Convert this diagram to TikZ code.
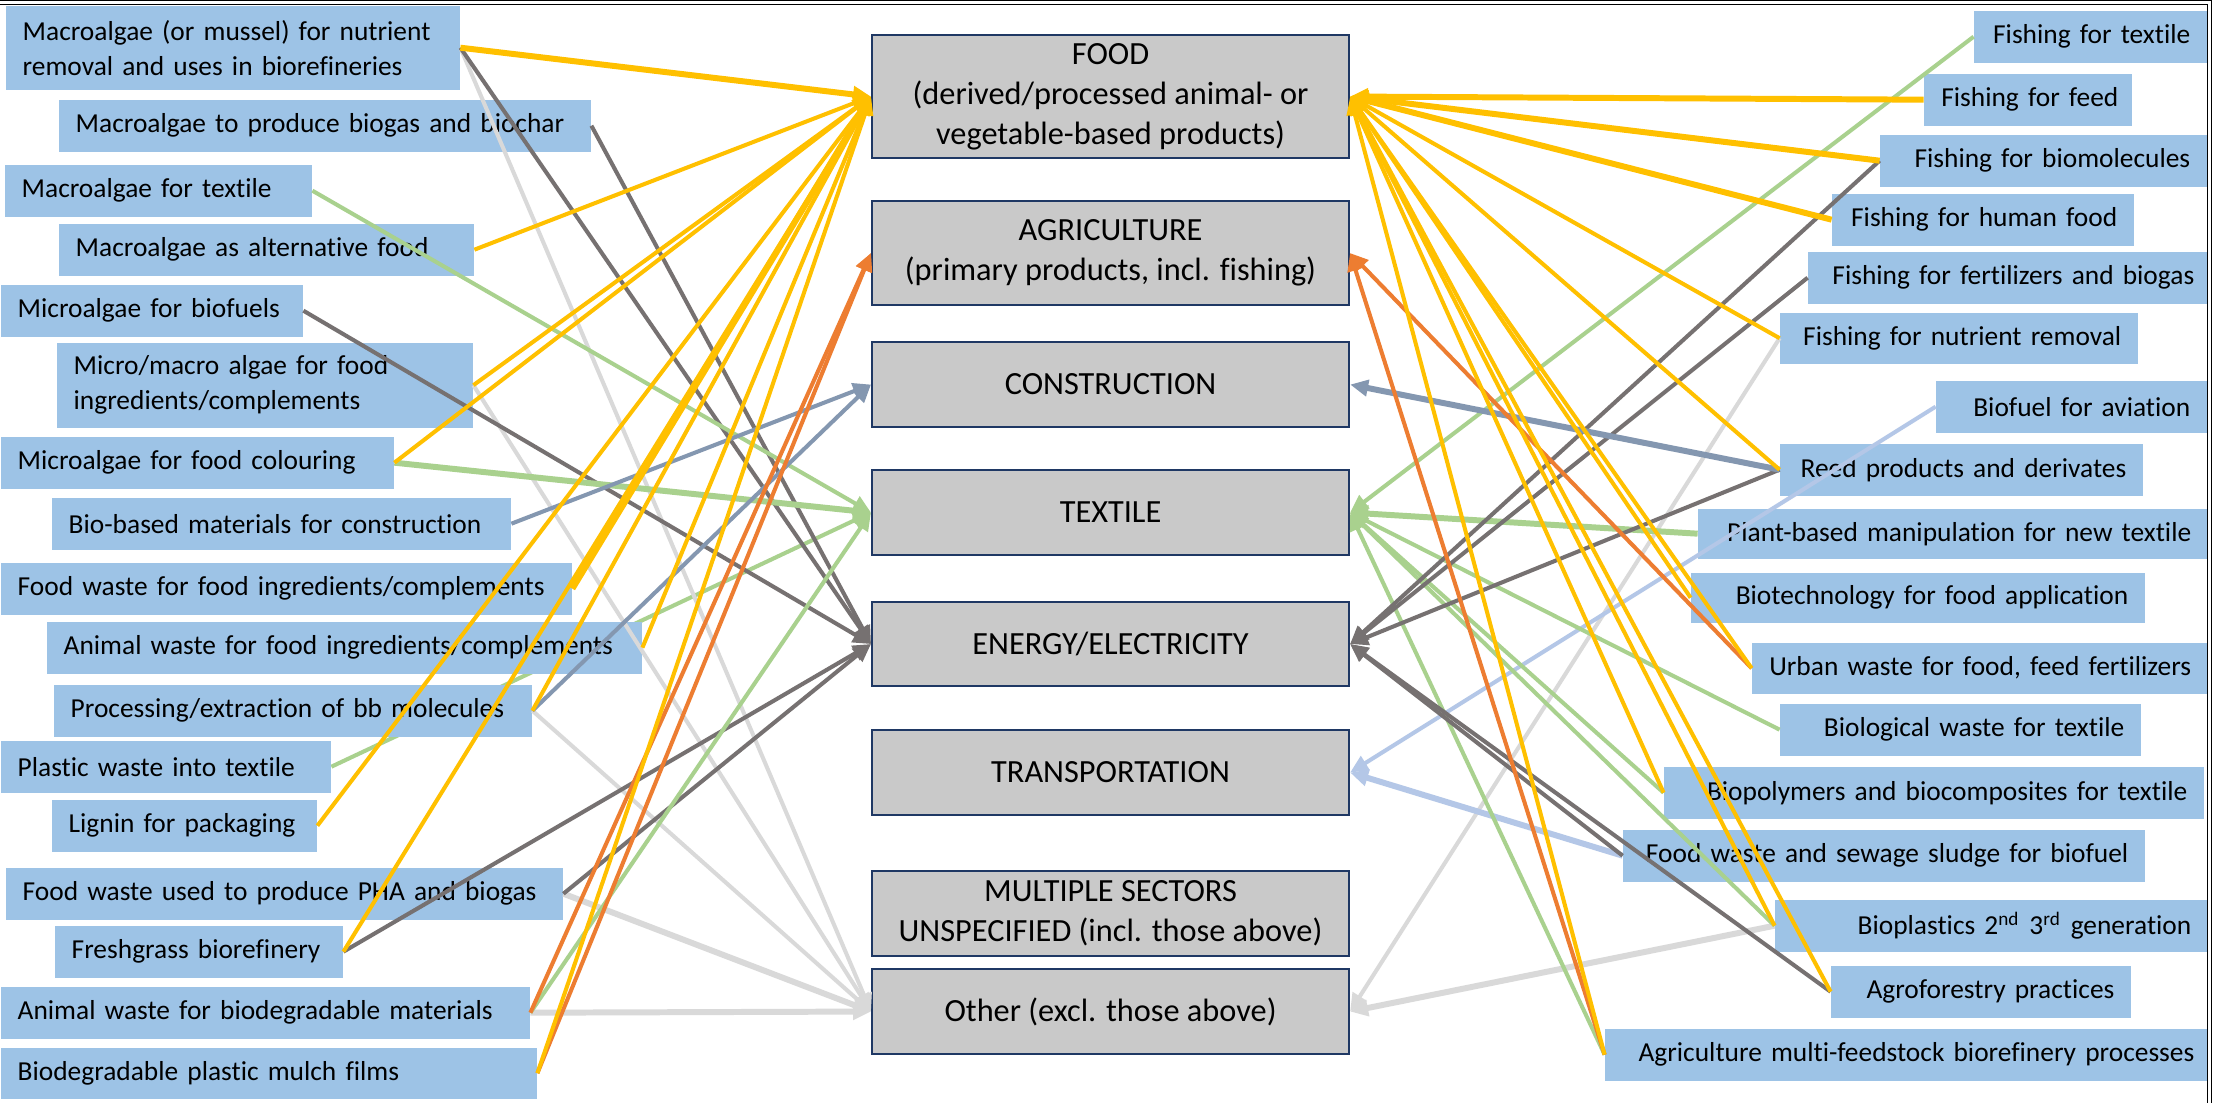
\documentclass[tikz,border=0pt]{standalone}
\usepackage{fontspec}
\setmainfont{Carlito}[Ligatures=NoCommon]
\usetikzlibrary{arrows.meta}
\pgfdeclarelayer{bg}
\pgfsetlayers{bg,main}
\definecolor{boxblue}{RGB}{157,195,230}
\definecolor{secgray}{RGB}{201,201,201}
\definecolor{navy}{RGB}{31,56,100}
\definecolor{cyel}{RGB}{255,192,0}
\definecolor{corg}{RGB}{237,125,49}
\definecolor{cdg}{RGB}{118,113,113}
\definecolor{clg}{RGB}{217,217,217}
\definecolor{cgr}{RGB}{169,209,142}
\definecolor{cbg}{RGB}{132,151,176}
\definecolor{clb}{RGB}{180,199,231}
\tikzset{
  boxfont/.style={font=\fontsize{7.8}{9.9}\selectfont, text=black},
  nowrap/.style={execute at begin node={\leavevmode\hbox\bgroup}, execute at end node={\egroup}},
  lbox2/.style={boxfont, fill=boxblue, anchor=north west, align=left, inner xsep=1.7mm, inner ysep=0pt,
    minimum height=5.2mm},
  lbox/.style={lbox2, nowrap},
  rbox/.style={boxfont, fill=boxblue, anchor=north east, align=right, inner xsep=1.7mm, inner ysep=0pt,
    minimum height=5.2mm, nowrap},
  sbox/.style={draw=navy, line width=0.6pt, fill=secgray, anchor=north west, minimum width=47.7mm,
    align=center, inner sep=0pt, font=\fontsize{9.2}{11.4}\selectfont, text=black},
  conn/.style={line width=1.15pt, -{Triangle[length=1.8mm,width=1.6mm]}},
  thk/.style={line width=1.7pt},
}
\begin{document}
\begin{tikzpicture}[x=0.1mm, y=-0.1mm]
\useasboundingbox (0,0) rectangle (2215,1103);
\begin{pgfonlayer}{bg}
\fill[white] (0,0) rectangle (2215,1103);
\end{pgfonlayer}

% central sector boxes
\node[sbox, minimum height=12.3mm] (FOOD) at (871,34) {FOOD\\(derived/processed animal- or\\vegetable-based products)};
\node[sbox, minimum height=10.4mm] (AGRI) at (871,200) {AGRICULTURE\\(primary products, incl. fishing)};
\node[sbox, minimum height=8.5mm] (CONS) at (871,341) {CONSTRUCTION};
\node[sbox, minimum height=8.5mm] (TEXT) at (871,469) {TEXTILE};
\node[sbox, minimum height=8.4mm] (ENER) at (871,601) {ENERGY/ELECTRICITY};
\node[sbox, minimum height=8.5mm] (TRAN) at (871,729) {TRANSPORTATION};
\node[sbox, minimum height=8.5mm] (MULT) at (871,870) {MULTIPLE SECTORS\\UNSPECIFIED (incl. those above)};
\node[sbox, minimum height=8.5mm] (OTHE) at (871,968) {Other (excl. those above)};

% left boxes
\node[lbox2, text width=42mm, minimum height=8.4mm] (L1) at (5,5) {Macroalgae (or mussel) for nutrient\\removal and uses in biorefineries};
\node[lbox, text width=49.8mm] (L2) at (58,99) {Macroalgae to produce biogas and biochar};
\node[lbox, text width=27.3mm] (L3) at (4,164) {Macroalgae for textile};
\node[lbox, text width=38.1mm] (L4) at (58,223) {Macroalgae as alternative food};
\node[lbox, text width=26.8mm] (L5) at (0,284) {Microalgae for biofuels};
\node[lbox2, text width=38.2mm, minimum height=8.5mm] (L6) at (56,342) {Micro/macro algae for food\\ingredients/complements};
\node[lbox, text width=35.9mm] (L7) at (0,436) {Microalgae for food colouring};
\node[lbox, text width=42.5mm] (L8) at (51,497) {Bio-based materials for construction};
\node[lbox, text width=53.7mm] (L9) at (0,562) {Food waste for food ingredients/complements};
\node[lbox, text width=56.1mm] (L10) at (46,621) {Animal waste for food ingredients/complements};
\node[lbox, text width=44.4mm] (L11) at (53,684) {Processing/extraction of bb molecules};
\node[lbox, text width=29.6mm] (L12) at (0,740) {Plastic waste into textile};
\node[lbox, text width=23.1mm] (L13) at (51,799) {Lignin for packaging};
\node[lbox, text width=52.3mm] (L14) at (5,867) {Food waste used to produce PHA and biogas};
\node[lbox, text width=25.4mm] (L15) at (54,925) {Freshgrass biorefinery};
\node[lbox, text width=49.5mm] (L16) at (0,986) {Animal waste for biodegradable materials};
\node[lbox, text width=50.2mm, minimum height=5.1mm] (L17) at (0,1047) {Biodegradable plastic mulch films};

% right boxes
\node[rbox, text width=19.9mm] (R1) at (2208,10) {Fishing for textile};
\node[rbox, text width=17.4mm] (R2) at (2133,73) {Fishing for feed};
\node[rbox, text width=29.3mm] (R3) at (2208,134) {Fishing for biomolecules};
\node[rbox, text width=26.8mm] (R4) at (2135,193) {Fishing for human food};
\node[rbox, text width=36.9mm] (R5) at (2212,251) {Fishing for fertilizers and biogas};
\node[rbox, text width=32.4mm, minimum height=5.1mm] (R6) at (2139,312) {Fishing for nutrient removal};
\node[rbox, text width=23.7mm] (R7) at (2208,380) {Biofuel for aviation};
\node[rbox, text width=32.9mm] (R8) at (2144,443) {Reed products and derivates};
\node[rbox, text width=47.6mm, minimum height=5.0mm] (R9) at (2209,508) {Plant-based manipulation for new textile};
\node[rbox, text width=42.0mm, minimum height=5.0mm] (R10) at (2146,572) {Biotechnology for food application};
\node[rbox, text width=42.1mm, minimum height=5.1mm] (R11) at (2208,642) {Urban waste for food, feed fertilizers};
\node[rbox, text width=32.7mm] (R12) at (2142,703) {Biological waste for textile};
\node[rbox, text width=50.6mm] (R13) at (2205,766) {Biopolymers and biocomposites for textile};
\node[rbox, text width=48.8mm] (R14) at (2146,829) {Food waste and sewage sludge for biofuel};
\node[rbox, text width=39.9mm] (R15) at (2209,899) {Bioplastics 2\textsuperscript{nd} 3\textsuperscript{rd} generation};
\node[rbox, text width=26.6mm] (R16) at (2132,965) {Agroforestry practices};
\node[rbox, text width=57.2mm] (R17) at (2212,1028) {Agriculture multi-feedstock biorefinery processes};

% connector drawn beneath the boxes
\begin{pgfonlayer}{bg}
\draw[conn, cgr] (L12.east) -- (TEXT.west);
\end{pgfonlayer}

% left connectors
\draw[conn, clg] (L1.east) -- (OTHE.west);
\draw[conn, clg] (L6.east) -- (OTHE.west);
\draw[conn, clg] (L11.east) -- (OTHE.west);
\draw[conn, clg, thk] (L14.east) -- (OTHE.west);
\draw[conn, clg, thk] (L16.east) -- (OTHE.west);

\draw[conn, cdg] (L1.east) -- (ENER.west);
\draw[conn, cdg] (L2.east) -- (ENER.west);
\draw[conn, cdg] (L5.east) -- (ENER.west);
\draw[conn, cdg] (L14.east) -- (ENER.west);
\draw[conn, cdg] (L15.east) -- (ENER.west);

\draw[conn, cgr] (L3.east) -- (TEXT.west);
\draw[conn, cgr, thk] (L7.east) -- (TEXT.west);
\draw[conn, cgr] (L16.east) -- (TEXT.west);

\draw[conn, cbg] (L8.east) -- (CONS.west);
\draw[conn, cbg] (L11.east) -- (CONS.west);

\draw[conn, corg] (L16.east) -- (AGRI.west);
\draw[conn, corg] (L17.east) -- (AGRI.west);

\draw[conn, cyel, thk] (L1.east) -- (FOOD.west);
\draw[conn, cyel] (L4.east) -- (FOOD.west);
\draw[conn, cyel] (L6.east) -- (FOOD.west);
\draw[conn, cyel] (L7.east) -- (FOOD.west);
\draw[conn, cyel, thk] (L9.east) -- (FOOD.west);
\draw[conn, cyel] (L10.east) -- (FOOD.west);
\draw[conn, cyel] (L11.east) -- (FOOD.west);
\draw[conn, cyel] (L13.east) -- (FOOD.west);
\draw[conn, cyel] (L15.east) -- (FOOD.west);
\draw[conn, cyel] (L17.east) -- (FOOD.west);

% right connectors
\draw[conn, clg] (R6.west) -- (OTHE.east);
\draw[conn, clg, thk] (R15.west) -- (OTHE.east);

\draw[conn, clb] (R7.west) -- (TRAN.east);
\draw[conn, clb, thk] (R14.west) -- (TRAN.east);

\draw[conn, cgr] (R1.west) -- (TEXT.east);
\draw[conn, cgr, thk] (R9.west) -- (TEXT.east);
\draw[conn, cgr] (R12.west) -- (TEXT.east);
\draw[conn, cgr] (R13.west) -- (TEXT.east);
\draw[conn, cgr] (R15.west) -- (TEXT.east);
\draw[conn, cgr] (R17.west) -- (TEXT.east);

\draw[conn, cdg] (R3.west) -- (ENER.east);
\draw[conn, cdg] (R5.west) -- (ENER.east);
\draw[conn, cdg] (R8.west) -- (ENER.east);
\draw[conn, cdg] (R14.west) -- (ENER.east);
\draw[conn, cdg] (R16.west) -- (ENER.east);

\draw[conn, cbg, thk] (R8.west) -- (CONS.east);

\draw[conn, corg] (R11.west) -- (AGRI.east);
\draw[conn, corg] (R17.west) -- (AGRI.east);

\draw[conn, cyel, thk] (R2.west) -- (FOOD.east);
\draw[conn, cyel, thk] (R3.west) -- (FOOD.east);
\draw[conn, cyel, thk] (R4.west) -- (FOOD.east);
\draw[conn, cyel] (R6.west) -- (FOOD.east);
\draw[conn, cyel] (R8.west) -- (FOOD.east);
\draw[conn, cyel] (R10.west) -- (FOOD.east);
\draw[conn, cyel] (R11.west) -- (FOOD.east);
\draw[conn, cyel] (R13.west) -- (FOOD.east);
\draw[conn, cyel] (R15.west) -- (FOOD.east);
\draw[conn, cyel] (R16.west) -- (FOOD.east);
\draw[conn, cyel] (R17.west) -- (FOOD.east);

% frame
\draw[black, double, double distance=0.22mm, line width=0.1mm] (0,2.5) -- (2209.5,2.5) -- (2209.5,1103);
\end{tikzpicture}
\end{document}
